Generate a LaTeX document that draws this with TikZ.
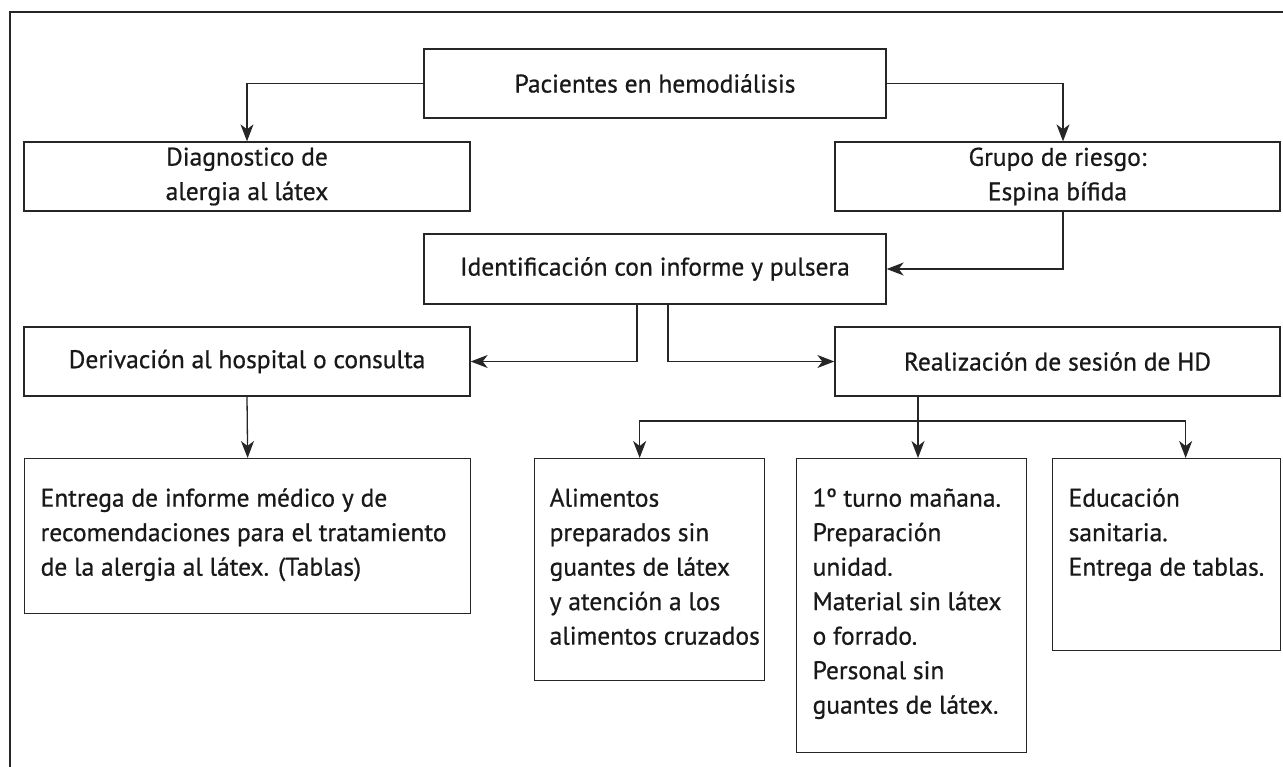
\documentclass[tikz,border=0pt]{standalone}
\usepackage{fontspec}
\setmainfont{PT Sans}[FakeBold=0.7]
\usetikzlibrary{arrows.meta,positioning}

\tikzset{
  caja/.style={draw=black!85, line width=1.3pt, inner sep=0pt, align=center,
    text=black!90, font=\fontsize{25.5}{34.5}\selectfont},
  ancha/.style={caja, minimum width=446pt, minimum height=69pt},
  baja/.style={caja, align=left, inner xsep=16pt, inner ysep=0pt},
  flecha/.style={draw=black!85, line width=1.3pt, -{Stealth[length=17pt,width=13pt,inset=5pt]}},
  linea/.style={draw=black!85, line width=1.3pt}
}
% texto pegado arriba dentro de una caja de alto fijo
\newcommand{\arriba}[3]{\parbox[c][#1][t]{#2}{\raggedright\rule{0pt}{48pt}#3}}

\begin{document}
\begin{tikzpicture}[x=1pt,y=-1pt]
\useasboundingbox (0,0) rectangle (1283,767);

%marco exterior
\draw [line width=1.5pt,black!85] (10,767) -- (10,12) -- (1283,12);

%cajas de arriba
\node [caja, minimum width=462pt, minimum height=69pt] (pac) at (655,83.5) {Pacientes en hemodiálisis};
\node [ancha] (diag) at (247,176.5) {Diagnostico de\\alergia al látex};
\node [ancha, minimum width=445pt] (grupo) at (1057.5,176.5) {Grupo de riesgo:\\Espina bífida};
\node [caja, minimum width=462pt, minimum height=70pt] (ident) at (655,269) {Identificación con informe y pulsera};
\node [ancha] (deriv) at (247,361.5) {Derivación al hospital o consulta};
\node [ancha, minimum width=445pt] (real) at (1057.5,361.5) {Realización de sesión de HD};

%cajas de abajo
\node [baja, anchor=north west] (entrega) at (24,458)
  {\arriba{155pt}{414pt}{Entrega de informe médico y de\\recomendaciones para el tratamiento\\de la alergia al látex. (Tablas)}};
\node [baja, anchor=north west, inner xsep=15pt] (alim) at (534,458)
  {\arriba{222pt}{200pt}{Alimentos\\preparados sin\\guantes de látex\\y atención a los\\\mbox{alimentos cruzados}}};
\node [baja, anchor=north west] (turno) at (796,458)
  {\arriba{294pt}{198pt}{1º turno mañana.\\Preparación\\unidad.\\Material sin látex\\o forrado.\\Personal sin\\guantes de látex.}};
\node [baja, anchor=north west] (educ) at (1052,458)
  {\arriba{192pt}{196pt}{Educación\\sanitaria.\\\mbox{Entrega de tablas.}}};

%flechas
\draw [flecha] (pac.west) -| (diag.north);
\draw [flecha] (pac.east) -| ([xshift=5.5pt]grupo.north);
\draw [flecha] ([xshift=5.5pt]grupo.south) |- (ident.east);
\draw [flecha] ([xshift=-18pt]ident.south) |- (deriv.east);
\draw [flecha] ([xshift=13pt]ident.south) |- (real.west);
\draw [flecha] (deriv.south) -- (entrega.north);

%reparto de la sesion de HD
\coordinate (reparto) at (918,421);
\draw [linea] (real.south -| reparto) -- (reparto);
\draw [flecha] (reparto) -- (reparto |- turno.north);
\draw [flecha] (reparto) -| ([xshift=-10pt]alim.north);
\draw [flecha] (reparto) -| ([xshift=19pt]educ.north);
\end{tikzpicture}
\end{document}
